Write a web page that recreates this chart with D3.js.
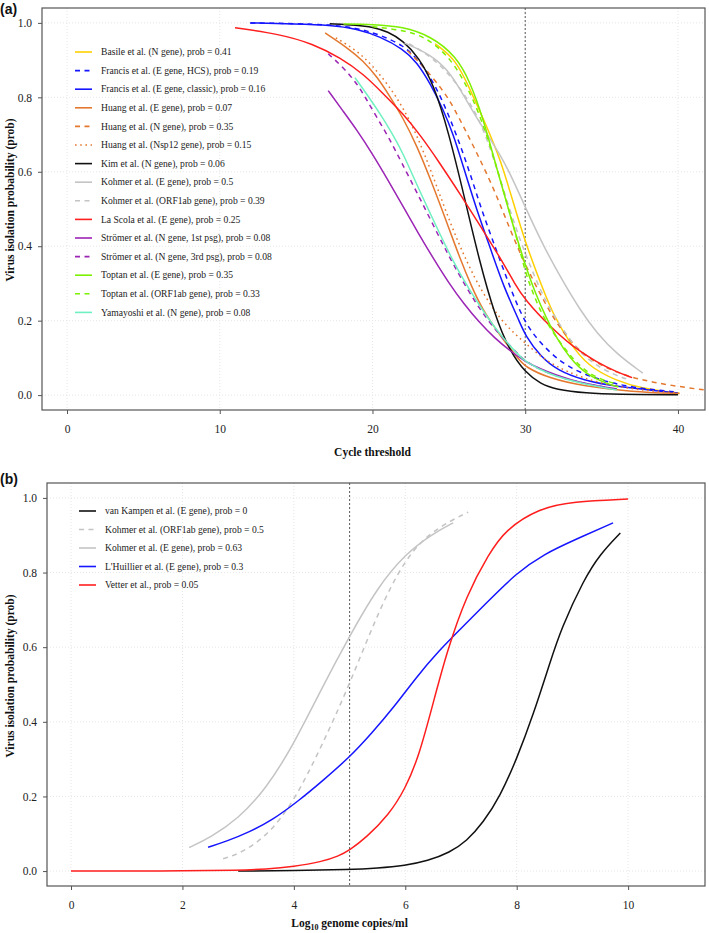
<!DOCTYPE html>
<html><head><meta charset="utf-8">
<script src="https://cdnjs.cloudflare.com/ajax/libs/d3/7.8.5/d3.min.js"></script>
<style>
html,body{margin:0;padding:0;background:#fff;}
svg{display:block;}
.serif{font-family:"Liberation Serif","Times New Roman",Times,"DejaVu Serif",serif;}
</style></head>
<body>
<script>
// ---------- Panel (a) data: [Ct, probability] ----------
const basileN = [[24.1,0.944],[25.5,0.9],[26.4,0.82],[27.5,0.72],[28.4,0.63],[29.2,0.52],[30,0.41],[31.2,0.28],[31.8,0.22],[32.9,0.14],[34.1,0.078],[36,0.038],[37.5,0.019],[40.1,0.005]];
const francisHCS = [[12,1.0],[15,0.998],[17.2,0.995],[19,0.986],[20.5,0.968],[22,0.94],[22.9,0.905],[23.8,0.855],[24.6,0.79],[25.5,0.70],[26.4,0.595],[27.2,0.49],[28.15,0.385],[29,0.29],[30,0.19],[31.2,0.13],[32.7,0.075],[34.9,0.04],[37,0.02],[40,0.008]];
const francisClassic = [[12,1.0],[15,0.997],[17.2,0.994],[19,0.984],[20.5,0.963],[22,0.93],[22.9,0.895],[23.8,0.836],[24.6,0.77],[25.3,0.7],[25.9,0.62],[26.8,0.5],[27.8,0.385],[28.6,0.29],[29.6,0.2],[30,0.16],[31,0.104],[32.1,0.067],[33.8,0.04],[36,0.022],[40,0.006]];
const huangE = [[16.9,0.973],[18.3,0.935],[19.4,0.898],[20.3,0.855],[21.1,0.805],[22,0.745],[22.9,0.67],[23.8,0.58],[24.9,0.46],[25.7,0.37],[26.5,0.29],[27.2,0.23],[28.35,0.16],[29.5,0.1],[30,0.075],[31.6,0.045],[33.8,0.024],[37,0.009],[40.1,0.004]];
const huangN = [[22.3,0.925],[23.3,0.885],[24.6,0.82],[25.3,0.775],[26.6,0.67],[27.9,0.56],[29,0.445],[30,0.35],[31,0.27],[31.8,0.21],[32.9,0.145],[34.2,0.096],[36,0.059],[38.2,0.034],[41.6,0.014],[42.5,0.011]];
const huangNsp12 = [[17.6,0.96],[19,0.925],[20,0.885],[21.1,0.83],[22,0.772],[22.9,0.7],[24,0.585],[25.1,0.46],[26.2,0.355],[27.2,0.275],[28.35,0.205],[29.3,0.165],[30,0.14],[31.2,0.097],[32.7,0.062],[35,0.03],[37.5,0.013],[40,0.006]];
const kimN = [[17.2,0.998],[19,0.994],[20,0.989],[21,0.977],[22,0.952],[23,0.909],[24,0.836],[25,0.704],[26,0.535],[27,0.36],[28,0.215],[29,0.117],[30,0.061],[31,0.03],[32,0.015],[34,0.005],[36,0.002],[40,0.001]];
const kohmerE_a = [[22.1,0.946],[23.8,0.915],[24.9,0.875],[25.7,0.825],[26.8,0.745],[28.4,0.645],[29.3,0.57],[30,0.505],[31.2,0.4],[32.4,0.31],[33.6,0.228],[34.7,0.166],[36,0.11],[37.7,0.059]];
const kohmerORF_a = [[22.4,0.944],[24,0.906],[25.5,0.84],[26.7,0.765],[27.5,0.69],[28.4,0.575],[29.2,0.47],[30,0.38],[30.8,0.3],[31.6,0.23],[32.9,0.15],[33.8,0.105],[35.1,0.068],[36.4,0.046],[36.9,0.04]];
const laScolaE = [[11,0.987],[13.9,0.97],[16.1,0.944],[17.9,0.906],[19.4,0.863],[20.7,0.81],[22,0.756],[23.1,0.7],[24.3,0.63],[25.9,0.53],[27.2,0.445],[28.5,0.36],[29.3,0.3],[30,0.255],[31.6,0.185],[33.1,0.13],[34.7,0.088],[36,0.062],[37,0.047]];
const stromer1 = [[17.1,0.818],[18,0.767],[19,0.711],[20,0.648],[21,0.579],[22,0.507],[23,0.435],[24,0.366],[25,0.301],[26,0.244],[27,0.195],[28,0.153],[29,0.119],[30,0.09],[31,0.07],[32,0.054],[33,0.041],[34,0.031],[35,0.023],[36,0.017]];
const stromer3 = [[17.1,0.917],[18.1,0.88],[19,0.836],[19.6,0.795],[20.3,0.745],[21.1,0.69],[21.9,0.625],[22.9,0.545],[24,0.455],[25.1,0.365],[26.2,0.285],[27.2,0.22],[28.35,0.16],[29.5,0.112],[30,0.09],[31.6,0.055],[33.8,0.031],[35.5,0.02]];
const toptanE = [[18.1,0.997],[20,0.996],[22,0.99],[23.8,0.965],[25.5,0.91],[26.4,0.84],[27.2,0.75],[28.2,0.6],[29.2,0.455],[30,0.35],[30.6,0.28],[31.4,0.205],[32.1,0.15],[32.9,0.1],[34,0.055],[35.4,0.03],[36.1,0.022]];
const toptanORF = [[20,0.99],[22.5,0.978],[23.8,0.952],[24.9,0.912],[25.9,0.855],[27.2,0.74],[28.4,0.575],[29.5,0.415],[30,0.33],[30.5,0.275],[31.2,0.205],[32.5,0.128],[33.6,0.075],[34.7,0.045],[36,0.03]];
const yamayoshiN = [[18.85,0.853],[19.6,0.81],[20.5,0.756],[21.3,0.702],[22,0.65],[22.9,0.565],[24.1,0.46],[25.2,0.365],[26.3,0.285],[27.5,0.21],[28.5,0.155],[29.5,0.11],[30,0.09],[31.6,0.054],[33.8,0.03],[36,0.014]];

const labelsA = ["Basile et al. (N gene), prob = 0.41","Francis et al. (E gene, HCS), prob = 0.19","Francis et al. (E gene, classic), prob = 0.16","Huang et al. (E gene), prob = 0.07","Huang et al. (N gene), prob = 0.35","Huang et al. (Nsp12 gene), prob = 0.15","Kim et al. (N gene), prob = 0.06","Kohmer et al. (E gene), prob = 0.5","Kohmer et al. (ORF1ab gene), prob = 0.39","La Scola et al. (E gene), prob = 0.25","Strömer et al. (N gene, 1st psg), prob = 0.08","Strömer et al. (N gene, 3rd psg), prob = 0.08","Toptan et al. (E gene), prob = 0.35","Toptan et al. (ORF1ab gene), prob = 0.33","Yamayoshi et al. (N gene), prob = 0.08"];
const seriesA = [basileN,francisHCS,francisClassic,huangE,huangN,huangNsp12,kimN,kohmerE_a,kohmerORF_a,laScolaE,stromer1,stromer3,toptanE,toptanORF,yamayoshiN];
const colorsA = ["#FFD000","#1515FF","#1515FF","#E4782F","#E4782F","#E4782F","#111111","#C4C4C4","#C4C4C4","#FF1E1E","#9B24B5","#9B24B5","#7CF000","#7CF000","#6FF0C0"];
const dashA = [null,"5,4.5",null,null,"5,4.5","1.6,3.6",null,null,"5,4.5",null,null,"5,4.5",null,"5,4.5",null];
const xTicksA = [0,10,20,30,40];
const yTicks = [0,0.2,0.4,0.6,0.8,1.0];
const refCt = 30;

// ---------- Panel (b) data: [log10 copies/ml, probability] ----------
const vanKampenE = [[3,0],[4,0.001],[5,0.004],[5.5,0.008],[6,0.015],[6.4,0.027],[6.8,0.05],[7.1,0.08],[7.4,0.13],[7.7,0.2],[8,0.3],[8.3,0.42],[8.6,0.56],[8.8,0.65],[9.2,0.78],[9.5,0.85],[9.86,0.906]];
const kohmerORF_b = [[2.73,0.033],[3,0.045],[3.5,0.09],[4,0.185],[4.5,0.335],[5,0.5],[5.5,0.69],[6,0.84],[6.5,0.915],[7.13,0.962]];
const kohmerE_b = [[2.12,0.063],[2.5,0.09],[3,0.14],[3.5,0.22],[4,0.34],[4.5,0.49],[5,0.63],[5.5,0.76],[6,0.85],[6.5,0.905],[6.86,0.933]];
const lhuillierE = [[2.46,0.064],[2.8,0.08],[3.2,0.105],[3.6,0.135],[4.1,0.19],[4.5,0.24],[5,0.305],[5.4,0.37],[5.8,0.44],[6.2,0.52],[6.6,0.59],[7,0.65],[7.4,0.71],[8,0.8],[8.5,0.85],[9,0.885],[9.73,0.933]];
const vetter = [[0,0],[1,0],[2,0.0005],[3,0.002],[3.5,0.005],[4,0.012],[4.5,0.025],[4.8,0.04],[5,0.056],[5.3,0.09],[5.7,0.15],[6,0.22],[6.25,0.31],[6.5,0.45],[6.75,0.59],[7.1,0.74],[7.5,0.85],[7.8,0.915],[8.4,0.972],[9,0.99],[10,0.997]];

const labelsB = ["van Kampen et al. (E gene), prob = 0","Kohmer et al. (ORF1ab gene), prob = 0.5","Kohmer et al. (E gene), prob = 0.63","L'Huillier et al. (E gene), prob = 0.3","Vetter et al., prob = 0.05"];
const seriesB = [vanKampenE,kohmerORF_b,kohmerE_b,lhuillierE,vetter];
const colorsB = ["#111111","#C4C4C4","#C4C4C4","#1515FF","#FF1E1E"];
const dashB = [null,"5,4.5",null,null,null];
const xTicksB = [0,2,4,6,8,10];
const refLog = 5;

const W = 709, H = 933;
const svg = d3.select("body").append("svg").attr("width",W).attr("height",H);

function panel(cfg){
  const x = d3.scaleLinear().domain(cfg.xdom).range([cfg.x0,cfg.x1]);
  const y = d3.scaleLinear().domain([-0.04,1.04]).range([cfg.y1,cfg.y0]);
  const g = svg.append("g");
  const clipId = "clip"+cfg.id;
  svg.append("clipPath").attr("id",clipId).append("rect")
    .attr("x",cfg.x0).attr("y",cfg.y0).attr("width",cfg.x1-cfg.x0).attr("height",cfg.y1-cfg.y0);
  g.selectAll(".gx").data(cfg.xticks).join("line")
    .attr("x1",d=>x(d)).attr("x2",d=>x(d)).attr("y1",cfg.y0).attr("y2",cfg.y1)
    .attr("stroke","#e6e6e6").attr("stroke-width",1).attr("stroke-dasharray","1,2");
  g.selectAll(".gy").data(yTicks).join("line")
    .attr("x1",cfg.x0).attr("x2",cfg.x1).attr("y1",d=>y(d)).attr("y2",d=>y(d))
    .attr("stroke","#e6e6e6").attr("stroke-width",1).attr("stroke-dasharray","1,2");
  g.append("line").attr("x1",x(cfg.ref)).attr("x2",x(cfg.ref)).attr("y1",cfg.y0).attr("y2",cfg.y1)
    .attr("stroke","#666").attr("stroke-width",1.1).attr("stroke-dasharray","2,2");
  const line = d3.line().x(d=>x(d[0])).y(d=>y(d[1])).curve(d3.curveBasis);
  const cg = g.append("g").attr("clip-path",`url(#${clipId})`);
  cfg.series.forEach((s,i)=>{
    cg.append("path").attr("d",line(s)).attr("fill","none")
      .attr("stroke",cfg.colors[i]).attr("stroke-width",1.5)
      .attr("stroke-dasharray",cfg.dash[i]);
  });
  const ax = g.append("g").attr("transform",`translate(0,${cfg.y1})`)
    .call(d3.axisBottom(x).tickValues(cfg.xticks).tickSize(4).tickPadding(11).tickFormat(d3.format("d")));
  const ay = g.append("g").attr("transform",`translate(${cfg.x0},0)`)
    .call(d3.axisLeft(y).tickValues(yTicks).tickSize(4).tickPadding(6).tickFormat(d3.format(".1f")));
  [ax,ay].forEach(a=>{
    a.attr("font-family",null);
    a.select(".domain").remove();
    a.selectAll("line").attr("stroke","#555");
    a.selectAll("text").attr("class","serif").attr("font-size",11.5).attr("fill","#222");
  });
  g.append("rect").attr("x",cfg.x0).attr("y",cfg.y0).attr("width",cfg.x1-cfg.x0).attr("height",cfg.y1-cfg.y0)
    .attr("fill","none").attr("stroke","#555").attr("stroke-width",1.2);
  const lg = g.append("g");
  cfg.labels.forEach((t,i)=>{
    const yy = cfg.legY + i*cfg.legStep;
    lg.append("line").attr("x1",cfg.legX).attr("x2",cfg.legX+17).attr("y1",yy).attr("y2",yy)
      .attr("stroke",cfg.colors[i]).attr("stroke-width",1.6).attr("stroke-dasharray",cfg.dash[i]);
    lg.append("text").attr("class","serif").attr("x",cfg.legX+26).attr("y",yy).attr("dy","0.33em")
      .attr("font-size",9.6).attr("fill","#222").text(t);
  });
  g.append("text").attr("class","serif").attr("transform",`translate(${cfg.yTitleX},${cfg.yTitleY}) rotate(-90)`)
    .attr("text-anchor","middle").attr("font-weight","bold").attr("font-size",11.5)
    .attr("fill","#111").text("Virus isolation probability (prob)");
  svg.append("text").attr("x",0).attr("y",cfg.tagY)
    .style("font-family","'Liberation Sans',Arial,sans-serif")
    .attr("font-weight","bold").attr("font-size",14).attr("fill","#111").text(cfg.tag);
  return {x,y,g};
}

const A = panel({id:"a",x0:42,x1:705,y0:8,y1:410,xdom:[-1.637,41.77],xticks:xTicksA,ref:refCt,
  series:seriesA,colors:colorsA,dash:dashA,labels:labelsA,legX:75,legY:52,legStep:18.6,
  yTitleX:14,yTitleY:200,tag:"(a)",tagY:14});
A.g.append("text").attr("class","serif").attr("x",A.x(20)).attr("y",456).attr("text-anchor","middle")
  .attr("font-weight","bold").attr("font-size",11.5).attr("fill","#111").text("Cycle threshold");

const B = panel({id:"b",x0:47,x1:705,y0:483,y1:886,xdom:[-0.431,11.38],xticks:xTicksB,ref:refLog,
  series:seriesB,colors:colorsB,dash:dashB,labels:labelsB,legX:79,legY:511,legStep:18.5,
  yTitleX:14,yTitleY:676,tag:"(b)",tagY:484});
const bt = B.g.append("text").attr("class","serif").attr("x",B.x(5)).attr("y",927).attr("text-anchor","middle")
  .attr("font-weight","bold").attr("font-size",11.5).attr("fill","#111");
bt.append("tspan").text("Log");
bt.append("tspan").attr("font-size",8).attr("dy",3).text("10");
bt.append("tspan").attr("dy",-3).text(" genome copies/ml");
</script>
</body></html>
